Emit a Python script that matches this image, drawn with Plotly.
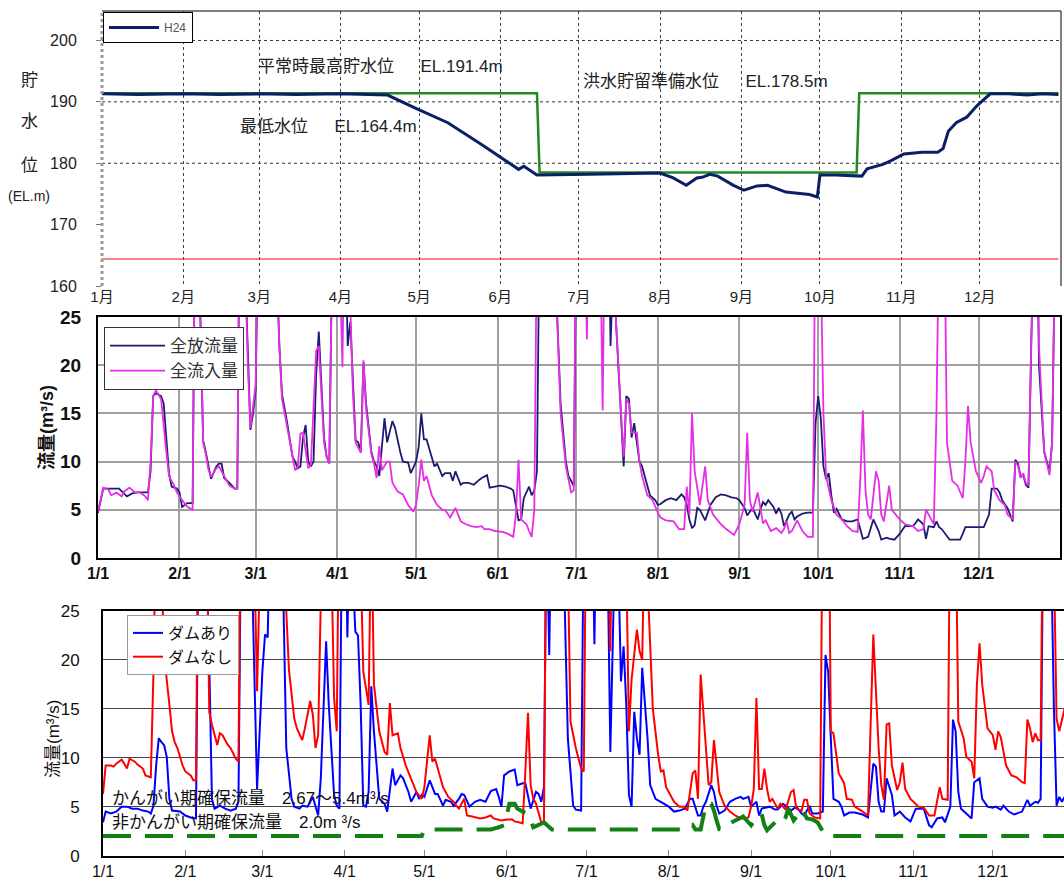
import plotly.graph_objects as go

YEAR = "2012"
MONTHS = [f"{YEAR}-{m:02d}-01" for m in range(1, 13)]
JP = "Liberation Sans, Noto Sans CJK JP, sans-serif"

# ---------------- reservoir level (EL.m) ----------------
level_h24 = [
    ("01-01", 191.3), ("01-15", 191.2), ("02-01", 191.3), ("02-15", 191.2), ("03-01", 191.3),
    ("03-15", 191.2), ("04-01", 191.3), ("04-19", 191.1), ("04-30", 188.9), ("05-12", 186.6),
    ("05-25", 183.0), ("06-01", 181.0), ("06-06", 179.7), ("06-08", 179.0), ("06-10", 179.5),
    ("06-15", 178.1), ("07-05", 178.2), ("08-01", 178.4), ("08-06", 177.6), ("08-11", 176.4),
    ("08-15", 177.6), ("08-17", 177.7), ("08-20", 178.2), ("08-23", 177.9), ("08-29", 176.4),
    ("09-02", 175.6), ("09-07", 176.3), ("09-11", 176.4), ("09-18", 175.3), ("09-23", 175.1),
    ("09-27", 174.9), ("09-30", 174.5), ("10-01", 178.1), ("10-07", 178.1), ("10-15", 178.0),
    ("10-17", 177.9), ("10-19", 179.1), ("10-25", 179.8), ("10-28", 180.4), ("11-02", 181.5),
    ("11-09", 181.8), ("11-15", 181.8), ("11-17", 182.4), ("11-19", 185.2), ("11-22", 186.6),
    ("11-26", 187.5), ("11-30", 189.4), ("12-05", 191.3), ("12-12", 191.3), ("12-19", 191.1),
    ("12-25", 191.3), ("12-31", 191.2),
]
rule_level = [
    ("01-01", 191.4), ("06-15", 191.4), ("06-16", 178.5),
    ("10-15", 178.5), ("10-16", 191.4), ("12-31", 191.4),
]
min_level = [("01-01", 164.4), ("12-31", 164.4)]

# ---------------- dam outflow / inflow (m3/s) ----------------
outflow = [
    ("01-01", 4.7), ("01-03", 7.2), ("01-09", 7.2), ("01-10", 6.9), ("01-12", 6.4), ("01-14", 6.7),
    ("01-16", 6.8), ("01-20", 6.8), ("01-21", 9.0), ("01-22", 16.8), ("01-23", 17.1), ("01-25", 16.8),
    ("01-26", 16.0), ("01-28", 8.8), ("01-29", 7.4), ("01-31", 7.2), ("02-01", 6.8), ("02-02", 5.3),
    ("02-04", 5.7), ("02-06", 5.7), ("02-07", 38), ("02-08", 36), ("02-10", 12.2), ("02-11", 11.0),
    ("02-12", 9.5), ("02-13", 8.2), ("02-15", 9.5), ("02-16", 9.8), ("02-17", 9.8), ("02-18", 8.3),
    ("02-20", 7.8), ("02-22", 7.2), ("02-23", 7.2), ("02-24", 40), ("02-25", 38), ("02-26", 30),
    ("02-27", 20), ("02-28", 13.3), ("02-29", 15), ("03-01", 17.5), ("03-02", 35), ("03-05", 40),
    ("03-09", 30), ("03-10", 22), ("03-11", 17), ("03-13", 14), ("03-15", 10.5), ("03-16", 10.0),
    ("03-17", 9.3), ("03-18", 9.5), ("03-19", 12.5), ("03-20", 13.8), ("03-21", 10.0), ("03-22", 9.5),
    ("03-23", 10.0), ("03-24", 19), ("03-25", 23.5), ("03-26", 17.5), ("03-27", 12.5), ("03-28", 10.5),
    ("03-29", 9.8), ("03-30", 30), ("03-31", 40), ("04-01", 38), ("04-02", 30), ("04-03", 28),
    ("04-04", 35), ("04-05", 22), ("04-06", 24.5), ("04-07", 17.8), ("04-08", 12.2), ("04-09", 12.0),
    ("04-10", 11.0), ("04-11", 20.3), ("04-12", 16), ("04-14", 11), ("04-15", 10), ("04-16", 9.5),
    ("04-17", 8.5), ("04-19", 14.5), ("04-20", 12), ("04-22", 14.2), ("04-23", 13.5), ("04-25", 11),
    ("04-26", 10), ("04-28", 9.9), ("04-29", 8.8), ("05-01", 10.0), ("05-02", 11.5), ("05-03", 15.0),
    ("05-04", 12.3), ("05-05", 12.3), ("05-07", 10.5), ("05-08", 9.5), ("05-09", 9.8), ("05-11", 8.5),
    ("05-12", 8.8), ("05-14", 8.8), ("05-15", 8.0), ("05-16", 9.0), ("05-18", 7.6), ("05-19", 7.8),
    ("05-21", 7.8), ("05-23", 7.6), ("05-25", 8.1), ("05-26", 8.3), ("05-28", 8.6), ("05-29", 7.3),
    ("05-31", 7.4), ("06-02", 7.5), ("06-04", 7.4), ("06-06", 7.2), ("06-07", 7.0), ("06-09", 3.9),
    ("06-10", 4.0), ("06-11", 6.2), ("06-13", 7.4), ("06-14", 6.5), ("06-15", 7.0), ("06-16", 9.0),
    ("06-17", 35), ("06-22", 40), ("06-23", 30), ("06-25", 16), ("06-27", 10), ("06-28", 8.5),
    ("06-30", 7.5), ("07-01", 35), ("07-13", 40), ("07-14", 22), ("07-15", 30), ("07-16", 25),
    ("07-18", 14), ("07-19", 9.5), ("07-20", 16.8), ("07-21", 16.5), ("07-22", 12.5), ("07-23", 14.0),
    ("07-25", 10), ("07-26", 9.5), ("07-28", 7.5), ("07-29", 6.5), ("07-31", 6.0), ("08-01", 5.5),
    ("08-02", 5.6), ("08-04", 6.0), ("08-06", 6.2), ("08-08", 6.0), ("08-10", 6.6), ("08-11", 6.3),
    ("08-12", 5.5), ("08-13", 4.0), ("08-14", 3.1), ("08-15", 3.4), ("08-16", 5.2), ("08-17", 5.0),
    ("08-19", 3.9), ("08-21", 5.5), ("08-23", 6.3), ("08-25", 6.6), ("08-27", 6.5), ("08-29", 6.3),
    ("08-31", 6.2), ("09-01", 6.0), ("09-03", 5.2), ("09-04", 4.4), ("09-06", 5.2), ("09-08", 4.0),
    ("09-09", 5.0), ("09-10", 5.8), ("09-11", 5.5), ("09-12", 6.0), ("09-14", 5.3), ("09-15", 4.6),
    ("09-16", 5.2), ("09-17", 4.6), ("09-18", 3.3), ("09-20", 4.5), ("09-21", 4.8), ("09-22", 4.0),
    ("09-23", 4.3), ("09-25", 4.6), ("09-27", 4.7), ("09-29", 4.7), ("09-30", 14), ("10-01", 16.8),
    ("10-02", 14.5), ("10-03", 9.5), ("10-04", 8.2), ("10-05", 8.8), ("10-06", 6.5), ("10-07", 4.7),
    ("10-08", 5.1), ("10-10", 4.0), ("10-12", 3.8), ("10-14", 3.8), ("10-16", 4.0), ("10-17", 3.0),
    ("10-18", 2.0), ("10-20", 2.2), ("10-21", 3.0), ("10-22", 4.0), ("10-24", 2.8), ("10-25", 1.9),
    ("10-27", 2.1), ("10-28", 2.0), ("10-30", 1.9), ("11-01", 2.5), ("11-03", 3.3), ("11-06", 3.3),
    ("11-07", 3.6), ("11-08", 4.0), ("11-10", 3.5), ("11-11", 2.0), ("11-12", 3.3), ("11-14", 3.2),
    ("11-15", 3.8), ("11-16", 3.2), ("11-17", 3.0), ("11-20", 1.9), ("11-22", 1.9), ("11-24", 1.9),
    ("11-25", 2.5), ("11-26", 3.2), ("11-28", 3.2), ("12-01", 3.2), ("12-03", 3.2), ("12-05", 4.5),
    ("12-06", 7.2), ("12-08", 7.2), ("12-09", 6.8), ("12-10", 6.0), ("12-12", 5.2), ("12-14", 3.8),
    ("12-15", 10.2), ("12-16", 9.8), ("12-17", 8.5), ("12-18", 8.6), ("12-19", 7.6), ("12-20", 7.3),
    ("12-21", 20), ("12-22", 35), ("12-23", 40), ("12-24", 20), ("12-26", 11), ("12-28", 9.0),
    ("12-29", 12), ("12-30", 30), ("12-31", 40),
]
inflow = [
    ("01-01", 4.8), ("01-03", 7.3), ("01-05", 7.1), ("01-06", 6.5), ("01-08", 6.8), ("01-10", 6.4),
    ("01-11", 6.9), ("01-13", 7.3), ("01-15", 6.8), ("01-17", 6.8), ("01-19", 6.4), ("01-20", 6.0),
    ("01-21", 10), ("01-22", 16.8), ("01-23", 17.4), ("01-25", 16.5), ("01-27", 11), ("01-28", 8.5),
    ("01-30", 7.5), ("01-31", 6.8), ("02-02", 6.0), ("02-04", 5.3), ("02-06", 5.0), ("02-07", 40),
    ("02-08", 38), ("02-10", 12.0), ("02-11", 10.8), ("02-12", 9.2), ("02-13", 8.4), ("02-15", 9.3),
    ("02-16", 9.5), ("02-17", 9.0), ("02-18", 8.6), ("02-20", 7.5), ("02-22", 7.2), ("02-23", 7.2),
    ("02-24", 42), ("02-25", 40), ("02-26", 30), ("02-27", 20), ("02-28", 13.5), ("02-29", 15.5),
    ("03-01", 18), ("03-02", 40), ("03-04", 45), ("03-05", 28), ("03-06", 40), ("03-09", 30),
    ("03-10", 22), ("03-11", 16.5), ("03-13", 13.5), ("03-15", 10.5), ("03-16", 9.1), ("03-17", 9.4),
    ("03-18", 12.9), ("03-19", 13.0), ("03-20", 11.0), ("03-21", 9.3), ("03-22", 9.7), ("03-24", 21.5),
    ("03-25", 22), ("03-26", 16.5), ("03-27", 12), ("03-28", 10.5), ("03-29", 9.8), ("03-30", 30),
    ("03-31", 40), ("04-01", 38), ("04-02", 30), ("04-03", 19.8), ("04-04", 40), ("04-05", 30),
    ("04-06", 26), ("04-07", 17), ("04-08", 12.0), ("04-09", 11.5), ("04-10", 10.9), ("04-11", 20.5),
    ("04-12", 15.5), ("04-14", 10.8), ("04-15", 9.8), ("04-16", 8.3), ("04-17", 11.6), ("04-18", 9.1),
    ("04-20", 10.0), ("04-21", 10.0), ("04-22", 7.8), ("04-24", 6.9), ("04-26", 6.6), ("04-28", 5.5),
    ("04-30", 4.8), ("05-01", 5.5), ("05-02", 7.5), ("05-03", 10.2), ("05-04", 8.0), ("05-05", 8.5),
    ("05-07", 6.5), ("05-09", 5.5), ("05-11", 5.0), ("05-12", 5.0), ("05-14", 4.2), ("05-16", 5.2),
    ("05-18", 3.8), ("05-20", 3.5), ("05-22", 3.3), ("05-24", 3.2), ("05-26", 3.3), ("05-27", 3.0),
    ("05-29", 3.0), ("05-31", 2.8), ("06-03", 2.7), ("06-05", 2.5), ("06-07", 2.2), ("06-08", 4.5),
    ("06-09", 10.2), ("06-10", 4.0), ("06-12", 3.5), ("06-13", 2.8), ("06-14", 2.2), ("06-15", 5.0),
    ("06-16", 35), ("06-18", 40), ("06-20", 45), ("06-22", 38), ("06-23", 30), ("06-25", 15),
    ("06-27", 9.5), ("06-28", 8.0), ("06-29", 6.8), ("06-30", 7.0), ("07-01", 40), ("07-04", 35),
    ("07-05", 22.7), ("07-06", 38), ("07-10", 35), ("07-11", 15.3), ("07-12", 40), ("07-14", 38),
    ("07-16", 25), ("07-18", 15), ("07-19", 10.5), ("07-20", 16.5), ("07-21", 16.0), ("07-22", 13.0),
    ("07-24", 13.0), ("07-25", 10.0), ("07-26", 8.5), ("07-28", 6.5), ("07-30", 6.0), ("08-01", 4.7),
    ("08-02", 4.2), ("08-04", 3.9), ("08-07", 3.8), ("08-09", 3.0), ("08-11", 3.0), ("08-12", 7.4),
    ("08-13", 4.5), ("08-14", 15.0), ("08-15", 9.0), ("08-17", 5.5), ("08-19", 9.5), ("08-20", 6.0),
    ("08-22", 4.5), ("08-25", 3.5), ("08-27", 3.0), ("08-30", 2.4), ("09-01", 3.5), ("09-03", 5.5),
    ("09-04", 13.0), ("09-05", 6.0), ("09-06", 4.8), ("09-08", 6.8), ("09-09", 5.0), ("09-10", 3.6),
    ("09-11", 3.9), ("09-13", 2.8), ("09-15", 3.1), ("09-17", 2.6), ("09-18", 3.0), ("09-19", 3.8),
    ("09-20", 2.6), ("09-21", 2.8), ("09-23", 3.9), ("09-25", 2.8), ("09-27", 2.2), ("09-29", 2.2),
    ("09-30", 40), ("10-01", 45), ("10-02", 30), ("10-03", 15), ("10-04", 8.5), ("10-06", 6.0),
    ("10-08", 4.5), ("10-10", 4.0), ("10-12", 3.3), ("10-14", 2.8), ("10-16", 2.7), ("10-17", 8.0),
    ("10-18", 15.3), ("10-19", 7.0), ("10-20", 4.5), ("10-21", 4.0), ("10-23", 9.0), ("10-24", 8.0),
    ("10-25", 4.5), ("10-26", 3.8), ("10-28", 7.5), ("10-29", 5.0), ("11-01", 4.0), ("11-03", 3.5),
    ("11-06", 3.3), ("11-08", 2.8), ("11-10", 3.0), ("11-11", 5.0), ("11-13", 4.0), ("11-14", 3.5),
    ("11-15", 15), ("11-16", 35), ("11-18", 35), ("11-19", 12), ("11-21", 8.0), ("11-23", 7.5),
    ("11-25", 6.2), ("11-26", 10), ("11-27", 15.8), ("11-28", 12), ("11-30", 9.0), ("12-01", 8.3),
    ("12-02", 7.8), ("12-03", 8.5), ("12-04", 9.5), ("12-06", 9.0), ("12-07", 7.0), ("12-09", 6.0),
    ("12-11", 5.5), ("12-12", 4.5), ("12-14", 4.0), ("12-15", 10.0), ("12-16", 9.6), ("12-17", 8.3),
    ("12-18", 8.8), ("12-19", 7.8), ("12-20", 7.5), ("12-21", 22), ("12-22", 40), ("12-23", 40),
    ("12-24", 22), ("12-26", 11), ("12-28", 8.6), ("12-29", 12), ("12-30", 30), ("12-31", 40),
]

# ---------------- downstream flow with / without dam (m3/s) ----------------
with_dam = [
    ("01-01", 3.4), ("01-02", 4.5), ("01-04", 4.3), ("01-06", 4.5), ("01-08", 5.0), ("01-10", 5.0),
    ("01-12", 4.8), ("01-14", 4.8), ("01-16", 4.6), ("01-18", 4.5), ("01-19", 4.3), ("01-20", 5.1),
    ("01-21", 9.2), ("01-22", 12.0), ("01-23", 11.6), ("01-24", 11.3), ("01-25", 10.1), ("01-26", 5.8),
    ("01-27", 4.6), ("01-30", 4.5), ("02-01", 4.1), ("02-03", 3.9), ("02-05", 3.8), ("02-06", 35),
    ("02-07", 40), ("02-09", 30), ("02-10", 20), ("02-11", 5.8), ("02-12", 4.8), ("02-14", 5.1),
    ("02-16", 4.8), ("02-18", 4.6), ("02-20", 4.8), ("02-21", 5.5), ("02-22", 35), ("02-24", 40),
    ("02-26", 30), ("02-28", 6.8), ("03-01", 18.8), ("03-02", 22.6), ("03-03", 22.3), ("03-04", 35),
    ("03-08", 35), ("03-09", 25), ("03-10", 11.0), ("03-12", 5.8), ("03-13", 5.0), ("03-15", 4.8),
    ("03-16", 5.1), ("03-18", 5.0), ("03-20", 6.0), ("03-21", 5.1), ("03-22", 4.1), ("03-23", 7.9),
    ("03-25", 21.9), ("03-26", 15.4), ("03-28", 6.2), ("03-29", 5.1), ("03-30", 4.8), ("03-31", 35),
    ("04-01", 40), ("04-02", 22.3), ("04-03", 35), ("04-05", 22.9), ("04-06", 22.5), ("04-07", 15.4),
    ("04-08", 5.1), ("04-09", 5.0), ("04-10", 6.5), ("04-11", 17.3), ("04-12", 12.7), ("04-14", 5.8),
    ("04-16", 5.3), ("04-17", 4.5), ("04-19", 8.9), ("04-20", 7.2), ("04-22", 8.2), ("04-23", 7.9),
    ("04-25", 6.5), ("04-26", 5.5), ("04-27", 6.0), ("04-28", 6.5), ("04-29", 5.8), ("04-30", 6.2),
    ("05-01", 6.0), ("05-03", 7.7), ("05-04", 7.0), ("05-05", 6.3), ("05-06", 6.3), ("05-08", 5.1),
    ("05-09", 5.7), ("05-11", 5.5), ("05-12", 5.1), ("05-14", 5.8), ("05-15", 6.3), ("05-16", 6.2),
    ("05-18", 5.0), ("05-20", 5.5), ("05-22", 5.7), ("05-24", 5.5), ("05-26", 6.6), ("05-28", 6.8),
    ("05-29", 6.0), ("05-30", 5.0), ("05-31", 8.2), ("06-02", 8.6), ("06-04", 8.8), ("06-05", 7.2),
    ("06-07", 7.4), ("06-08", 7.4), ("06-10", 4.8), ("06-12", 6.5), ("06-13", 6.3), ("06-14", 5.5),
    ("06-15", 7.0), ("06-16", 35), ("06-17", 20.5), ("06-18", 40), ("06-22", 35), ("06-24", 12),
    ("06-26", 5.1), ("06-27", 4.7), ("06-29", 4.6), ("06-30", 35), ("07-03", 40), ("07-04", 21.6),
    ("07-05", 40), ("07-09", 30), ("07-10", 10.6), ("07-12", 35), ("07-13", 30), ("07-14", 17.8),
    ("07-15", 21.4), ("07-16", 15.4), ("07-17", 6.2), ("07-18", 5.0), ("07-19", 14.7), ("07-20", 12.0),
    ("07-21", 10.3), ("07-22", 19.2), ("07-24", 12.0), ("07-25", 7.2), ("07-27", 5.8), ("07-30", 5.3),
    ("08-01", 5.0), ("08-03", 4.5), ("08-05", 4.6), ("08-07", 4.8), ("08-09", 5.8), ("08-10", 5.8),
    ("08-12", 4.1), ("08-13", 4.1), ("08-14", 5.0), ("08-15", 5.5), ("08-17", 7.2), ("08-18", 6.5),
    ("08-19", 5.1), ("08-20", 4.3), ("08-22", 4.6), ("08-24", 5.5), ("08-26", 5.8), ("08-28", 6.0),
    ("08-29", 5.8), ("08-31", 6.0), ("09-01", 5.0), ("09-03", 5.5), ("09-04", 4.1), ("09-05", 4.8),
    ("09-08", 5.0), ("09-10", 4.7), ("09-11", 4.7), ("09-13", 5.3), ("09-14", 5.1), ("09-16", 4.6),
    ("09-18", 5.0), ("09-20", 4.3), ("09-21", 4.1), ("09-23", 5.1), ("09-24", 4.3), ("09-26", 4.3),
    ("09-28", 4.5), ("09-29", 20.5), ("09-30", 18.8), ("10-01", 12.0), ("10-02", 5.8), ("10-04", 5.5),
    ("10-05", 5.0), ("10-06", 4.1), ("10-08", 4.4), ("10-10", 4.4), ("10-13", 4.2), ("10-15", 3.9),
    ("10-17", 9.4), ("10-18", 9.1), ("10-19", 5.5), ("10-20", 4.5), ("10-21", 4.5), ("10-22", 7.9),
    ("10-24", 6.2), ("10-25", 4.1), ("10-27", 4.5), ("10-29", 3.9), ("10-31", 3.5), ("11-02", 4.8),
    ("11-05", 4.8), ("11-07", 3.1), ("11-08", 2.9), ("11-10", 3.8), ("11-12", 3.9), ("11-13", 3.4),
    ("11-15", 5.0), ("11-16", 13.9), ("11-17", 12.7), ("11-18", 6.5), ("11-19", 4.8), ("11-21", 4.3),
    ("11-23", 3.8), ("11-24", 7.5), ("11-26", 7.9), ("11-27", 5.8), ("11-29", 5.0), ("12-01", 4.9),
    ("12-02", 5.0), ("12-04", 4.7), ("12-05", 5.1), ("12-07", 4.5), ("12-09", 4.2), ("12-12", 4.5),
    ("12-14", 5.7), ("12-15", 5.1), ("12-17", 5.5), ("12-18", 5.4), ("12-19", 5.8), ("12-20", 35),
    ("12-21", 40), ("12-23", 30), ("12-24", 15), ("12-25", 5.1), ("12-26", 6.0), ("12-27", 5.5),
    ("12-28", 6.0),
]
without_dam = [
    ("01-01", 6.3), ("01-02", 9.2), ("01-04", 9.2), ("01-05", 9.1), ("01-06", 9.4), ("01-08", 9.8),
    ("01-09", 9.4), ("01-10", 8.9), ("01-11", 9.9), ("01-13", 9.6), ("01-14", 9.3), ("01-16", 8.9),
    ("01-17", 8.2), ("01-19", 8.0), ("01-20", 18.8), ("01-21", 35), ("01-23", 30), ("01-24", 20.5),
    ("01-26", 15.4), ("01-27", 12.7), ("01-28", 11.6), ("01-29", 11.0), ("01-31", 9.2), ("02-01", 8.6),
    ("02-03", 8.2), ("02-04", 7.7), ("02-05", 7.7), ("02-06", 40), ("02-09", 35), ("02-10", 14.7),
    ("02-11", 13.4), ("02-13", 11.3), ("02-14", 12.5), ("02-15", 12.3), ("02-17", 11.3), ("02-18", 11.0),
    ("02-20", 9.9), ("02-21", 9.6), ("02-22", 40), ("02-27", 30), ("02-28", 16.8), ("03-01", 40),
    ("03-09", 35), ("03-10", 25), ("03-11", 19.0), ("03-12", 16.4), ("03-13", 14.0), ("03-14", 13.0),
    ("03-16", 11.8), ("03-17", 13.0), ("03-19", 15.8), ("03-20", 14.4), ("03-21", 11.0), ("03-22", 12.3),
    ("03-24", 40), ("03-27", 30), ("03-28", 16.1), ("03-29", 12.7), ("03-30", 40), ("04-07", 30),
    ("04-08", 18.8), ("04-10", 15.4), ("04-11", 35), ("04-12", 17.5), ("04-14", 12.7), ("04-16", 10.6),
    ("04-17", 10.3), ("04-18", 15.6), ("04-19", 12.3), ("04-21", 12.5), ("04-22", 11.0), ("04-24", 9.2),
    ("04-26", 7.9), ("04-28", 6.5), ("04-30", 5.8), ("05-01", 7.0), ("05-03", 12.3), ("05-04", 9.6),
    ("05-05", 9.9), ("05-06", 8.9), ("05-08", 7.0), ("05-10", 6.0), ("05-12", 5.5), ("05-13", 5.1),
    ("05-14", 4.8), ("05-16", 5.8), ("05-17", 4.1), ("05-19", 4.0), ("05-22", 3.8), ("05-24", 3.9),
    ("05-26", 4.1), ("05-27", 3.8), ("05-30", 3.6), ("06-01", 3.7), ("06-03", 3.7), ("06-04", 3.5),
    ("06-06", 3.4), ("06-07", 3.3), ("06-08", 8.6), ("06-09", 14.6), ("06-10", 7.2), ("06-11", 5.8),
    ("06-12", 5.3), ("06-14", 3.4), ("06-15", 3.3), ("06-16", 40), ("06-24", 30), ("06-25", 13.7),
    ("06-27", 11.0), ("06-29", 8.9), ("06-30", 8.6), ("07-01", 40), ("07-09", 35), ("07-10", 20.9),
    ("07-11", 40), ("07-16", 30), ("07-17", 12.7), ("07-18", 18.0), ("07-20", 23.1), ("07-21", 20.9),
    ("07-22", 20.0), ("07-23", 35), ("07-24", 28), ("07-26", 15.0), ("07-28", 10.3), ("07-29", 8.6),
    ("07-30", 8.7), ("07-31", 7.0), ("08-02", 6.0), ("08-03", 5.5), ("08-05", 5.0), ("08-07", 5.0),
    ("08-08", 4.6), ("08-10", 8.4), ("08-11", 8.7), ("08-12", 5.8), ("08-13", 18.5), ("08-15", 10.3),
    ("08-16", 7.2), ("08-17", 7.5), ("08-18", 11.8), ("08-19", 9.2), ("08-20", 6.5), ("08-22", 5.1),
    ("08-24", 4.5), ("08-26", 4.1), ("08-28", 3.8), ("08-29", 3.8), ("08-31", 3.9), ("09-01", 5.0),
    ("09-02", 6.8), ("09-03", 16.1), ("09-04", 6.8), ("09-05", 6.8), ("09-06", 8.9), ("09-07", 6.8),
    ("09-08", 5.5), ("09-09", 5.8), ("09-11", 4.8), ("09-12", 5.3), ("09-13", 5.0), ("09-14", 4.7),
    ("09-16", 6.5), ("09-17", 6.7), ("09-18", 4.8), ("09-20", 4.6), ("09-21", 5.7), ("09-22", 5.7),
    ("09-23", 4.3), ("09-25", 3.9), ("09-27", 3.8), ("09-28", 40), ("09-30", 45), ("10-01", 12.7),
    ("10-02", 12.5), ("10-03", 10.6), ("10-04", 8.4), ("10-06", 7.4), ("10-07", 5.8), ("10-09", 5.7),
    ("10-10", 5.0), ("10-13", 4.5), ("10-15", 4.1), ("10-16", 13.4), ("10-17", 22.6), ("10-19", 11.0),
    ("10-20", 7.2), ("10-21", 5.7), ("10-22", 13.4), ("10-23", 13.5), ("10-24", 9.2), ("10-26", 6.7),
    ("10-27", 7.5), ("10-28", 9.5), ("10-29", 6.8), ("10-31", 5.8), ("11-02", 5.3), ("11-03", 5.0),
    ("11-05", 4.9), ("11-07", 4.1), ("11-09", 4.1), ("11-11", 7.0), ("11-12", 5.8), ("11-14", 5.7),
    ("11-15", 40), ("11-17", 35), ("11-18", 13.7), ("11-20", 12.0), ("11-21", 10.1), ("11-23", 9.6),
    ("11-24", 7.9), ("11-25", 17.5), ("11-26", 21.7), ("11-27", 17.5), ("11-29", 13.0), ("11-30", 12.7),
    ("12-01", 12.3), ("12-02", 10.8), ("12-03", 12.7), ("12-04", 12.1), ("12-06", 9.2), ("12-08", 8.2),
    ("12-10", 8.0), ("12-12", 7.5), ("12-13", 7.4), ("12-14", 13.9), ("12-15", 13.0), ("12-16", 11.6),
    ("12-17", 12.5), ("12-18", 11.8), ("12-19", 11.8), ("12-20", 40), ("12-24", 30), ("12-25", 14.0),
    ("12-26", 12.7), ("12-28", 15.0),
]
secured_flow = [
    ("01-01", 2.0), ("04-30", 2.0), ("05-01", 2.67), ("05-26", 2.67), ("05-29", 2.9), ("05-31", 3.1),
    ("06-01", 4.1), ("06-02", 5.3), ("06-04", 5.3), ("06-05", 4.8), ("06-07", 4.5), ("06-09", 4.3),
    ("06-11", 2.9), ("06-13", 3.1), ("06-15", 3.4), ("06-18", 2.67), ("08-08", 2.67), ("08-10", 3.1),
    ("08-11", 2.67), ("08-13", 2.67), ("08-14", 4.1), ("08-15", 5.3), ("08-17", 5.3), ("08-18", 4.6),
    ("08-19", 3.6), ("08-20", 2.7), ("08-22", 2.67), ("08-24", 3.3), ("08-29", 4.0), ("08-31", 3.4),
    ("09-01", 3.1), ("09-03", 3.9), ("09-04", 3.8), ("09-05", 4.2), ("09-06", 3.1), ("09-07", 2.6),
    ("09-10", 3.4), ("09-12", 3.1), ("09-14", 3.9), ("09-15", 4.8), ("09-17", 3.6), ("09-19", 4.3),
    ("09-20", 4.8), ("09-22", 3.8), ("09-24", 3.7), ("09-26", 3.4), ("09-28", 2.4), ("09-29", 2.0),
    ("12-31", 2.0),
]

month_labels_jp = [f"{m}月" for m in range(1, 13)]
month_labels = [f"{m}/1" for m in range(1, 13)]


def unzip(pairs):
    return [f"{YEAR}-{d}" for d, _ in pairs], [v for _, v in pairs]


fig = go.Figure()

# ---- panel 1: reservoir level ----
x, y = unzip(rule_level)
fig.add_trace(go.Scatter(x=x, y=y, mode="lines", line=dict(color="#1f8a1f", width=2.5),
                         showlegend=False, xaxis="x", yaxis="y"))
x, y = unzip(min_level)
fig.add_trace(go.Scatter(x=x, y=y, mode="lines", line=dict(color="#ff0000", width=1),
                         showlegend=False, xaxis="x", yaxis="y"))
x, y = unzip(level_h24)
fig.add_trace(go.Scatter(x=x, y=y, mode="lines", name="H24", line=dict(color="#0b1f66", width=3),
                         xaxis="x", yaxis="y", legend="legend"))

# ---- panel 2: outflow / inflow ----
x, y = unzip(outflow)
fig.add_trace(go.Scatter(x=x, y=y, mode="lines", name="全放流量", line=dict(color="#1b1b70", width=1.8),
                         xaxis="x2", yaxis="y2", legend="legend2"))
x, y = unzip(inflow)
fig.add_trace(go.Scatter(x=x, y=y, mode="lines", name="全流入量", line=dict(color="#e62ee6", width=1.8),
                         xaxis="x2", yaxis="y2", legend="legend2"))

# ---- panel 3: with / without dam ----
x, y = unzip(with_dam)
fig.add_trace(go.Scatter(x=x, y=y, mode="lines", name="ダムあり", line=dict(color="#0000ff", width=2),
                         xaxis="x3", yaxis="y3", legend="legend3"))
x, y = unzip(without_dam)
fig.add_trace(go.Scatter(x=x, y=y, mode="lines", name="ダムなし", line=dict(color="#ff0000", width=2),
                         xaxis="x3", yaxis="y3", legend="legend3"))
x, y = unzip(secured_flow)
fig.add_trace(go.Scatter(x=x, y=y, mode="lines", line=dict(color="#138013", width=4, dash="28px,14px"),
                         showlegend=False, xaxis="x3", yaxis="y3"))

W, H = 1064, 886


def dom_x(a, b):
    return [a / W, b / W]


def dom_y(top, bottom):
    return [1 - bottom / H, 1 - top / H]


fig.update_layout(
    width=W, height=H, autosize=False,
    margin=dict(l=0, r=0, t=0, b=0, pad=0, autoexpand=False),
    paper_bgcolor="white", plot_bgcolor="white",
    font=dict(family=JP, color="#111"),
    xaxis=dict(domain=dom_x(102, 1061), anchor="y", type="date",
               range=[f"{YEAR}-01-01", "2013-01-01"],
               tickmode="array", tickvals=MONTHS, ticktext=month_labels_jp,
               showgrid=True, gridcolor="#444", griddash="dot", gridwidth=1,
               showline=False, zeroline=False, ticks="", automargin=False,
               tickfont=dict(size=15, color="#222")),
    yaxis=dict(domain=dom_y(11, 286), anchor="x", range=[160, 204.8],
               tickvals=[160, 170, 180, 190, 200], showgrid=False, zeroline=False,
               ticks="outside", ticklen=5, tickcolor="#777", ticklabelstandoff=16,
               automargin=False, tickfont=dict(size=16, color="#222")),
    xaxis2=dict(domain=dom_x(98, 1060), anchor="y2", type="date",
                range=[f"{YEAR}-01-01", "2013-01-01"],
                tickmode="array", tickvals=MONTHS, ticktext=month_labels,
                showgrid=True, gridcolor="#a0a0a0", gridwidth=1.5,
                showline=True, linecolor="black", linewidth=2, mirror=True,
                zeroline=False, ticks="", automargin=False,
                tickfont=dict(size=16, color="#111", weight="bold")),
    yaxis2=dict(domain=dom_y(317, 558), anchor="x2", range=[0, 25], dtick=5,
                showgrid=True, gridcolor="#a0a0a0", gridwidth=1.5,
                showline=True, linecolor="black", linewidth=2, mirror=True,
                zeroline=False, ticks="", ticklabelstandoff=11, automargin=False,
                tickfont=dict(size=19, color="#111", weight="bold")),
    xaxis3=dict(domain=dom_x(103, 1064), anchor="y3", type="date",
                range=[f"{YEAR}-01-01", f"{YEAR}-12-27 19:00"],
                tickmode="array", tickvals=MONTHS, ticktext=month_labels,
                showgrid=False, showline=True, linecolor="black", linewidth=2, mirror=True,
                zeroline=False, ticks="inside", ticklen=6, tickcolor="#888", automargin=False,
                tickfont=dict(size=16, color="#111")),
    yaxis3=dict(domain=dom_y(611, 855.6), anchor="x3", range=[0, 25], dtick=5,
                showgrid=True, gridcolor="#444", gridwidth=1,
                showline=True, linecolor="black", linewidth=2, mirror=False,
                zeroline=False, ticks="", ticklabelstandoff=18, automargin=False,
                tickfont=dict(size=17, color="#111")),
    legend=dict(x=103 / W, y=1 - 12 / H, xanchor="left", yanchor="top",
                bgcolor="white", bordercolor="black", borderwidth=1, itemwidth=50,
                font=dict(size=12, color="#555")),
    legend2=dict(x=104 / W, y=1 - 327 / H, xanchor="left", yanchor="top",
                 bgcolor="white", bordercolor="#333", borderwidth=1, itemwidth=55,
                 font=dict(size=17, color="#333")),
    legend3=dict(x=127 / W, y=1 - 615 / H, xanchor="left", yanchor="top",
                 bgcolor="white", bordercolor="#999", borderwidth=1,
                 font=dict(size=16, color="#111")),
)

# panel 1 frame and level gridlines
shapes = [
    dict(type="line", xref="x domain", yref="y domain", x0=0, x1=1, y0=1, y1=1,
         line=dict(color="black", width=1)),
    dict(type="line", xref="x domain", yref="y domain", x0=1, x1=1, y0=0, y1=1,
         line=dict(color="black", width=1)),
    dict(type="line", xref="x domain", yref="y domain", x0=0, x1=0, y0=0, y1=1,
         line=dict(color="#999", width=3, dash="dot")),
]
for lv in (180, 190, 200):
    shapes.append(dict(type="line", xref="x domain", yref="y", x0=0, x1=1, y0=lv, y1=lv,
                       line=dict(color="#333", width=1, dash="dot"), layer="below"))
fig.update_layout(shapes=shapes)

ann = []
# panel 1 axis title (stacked characters)
for txt, yy, sz in (("貯", 81, 17), ("水", 122, 17), ("位", 165, 17), ("(EL.m)", 196, 14)):
    ann.append(dict(text=txt, x=29 / W, y=1 - yy / H, xref="paper", yref="paper",
                    xanchor="center", yanchor="middle",
                    showarrow=False, font=dict(size=sz, color="#222")))
# panel 1 level labels
for txt, xx, yy in (("平常時最高貯水位　  EL.191.4m", 256, 67),
                    ("最低水位　  EL.164.4m", 238, 126),
                    ("洪水貯留準備水位　  EL.178.5m", 581, 82)):
    ann.append(dict(text=txt, x=xx / W, y=1 - yy / H, xref="paper", yref="paper",
                    xanchor="left", yanchor="middle", showarrow=False,
                    font=dict(size=17, color="#222")))
# panel 2 axis title
ann.append(dict(text="流量(m³/s)", x=47 / W, y=1 - 428 / H, xref="paper", yref="paper",
                xanchor="center", yanchor="middle", textangle=-90, showarrow=False,
                font=dict(size=18, color="#111", weight="bold")))
# panel 3 axis title
ann.append(dict(text="流量(m³/s)", x=53 / W, y=1 - 739 / H, xref="paper", yref="paper",
                xanchor="center", yanchor="middle", textangle=-90, showarrow=False,
                font=dict(size=17, color="#111")))
# panel 3 secured flow labels
ann.append(dict(text="かんがい期確保流量　2.67～5.4m³/s", x=110 / W, y=1 - 798 / H,
                xref="paper", yref="paper", xanchor="left", yanchor="middle", showarrow=False,
                font=dict(size=17, color="#111")))
ann.append(dict(text="非かんがい期確保流量　2.0m ³/s", x=110 / W, y=1 - 822 / H,
                xref="paper", yref="paper", xanchor="left", yanchor="middle", showarrow=False,
                font=dict(size=17, color="#111")))
fig.update_layout(annotations=ann)

# the page body gets no default margin so the figure fills the window exactly
fig.write_html("out.html", post_script="document.body.style.margin='0';")
